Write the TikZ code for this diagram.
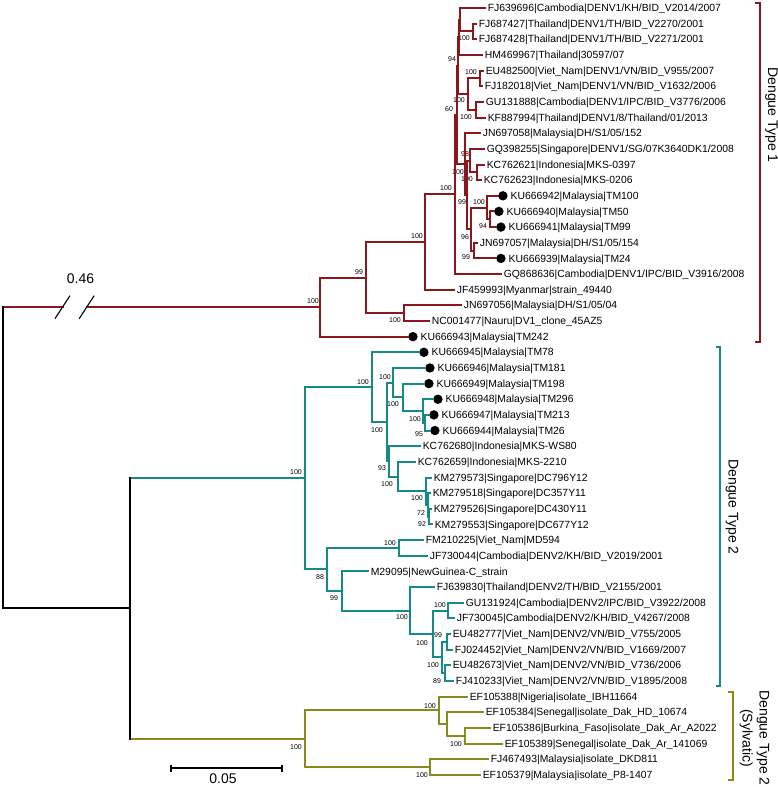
\documentclass[tikz,border=0pt]{standalone}
\usepackage{fontspec}
\setmainfont{Liberation Sans}
\usetikzlibrary{positioning}
\definecolor{denvred}{RGB}{139,22,28}
\definecolor{denvteal}{RGB}{20,138,138}
\definecolor{denvolive}{RGB}{138,138,28}

\begin{document}
\begin{tikzpicture}[x=1pt, y=-1pt,
    branch/.style={line width=2pt, line cap=rect},
    leaf/.style={anchor=west, inner xsep=2.6pt, inner ysep=0pt, text height=0.72em, text depth=0pt, font=\fontsize{10.4}{12}\selectfont},
    dot/.style={circle, fill=black, inner sep=0pt, minimum size=9.4pt, anchor=west},
    boot/.style={inner sep=0pt, font=\fontsize{7}{8}\selectfont},
    big/.style={inner sep=0pt, font=\fontsize{14}{17}\selectfont},
    bracket/.style={line width=2pt}]
    \useasboundingbox (0,0) rectangle (778,787);

    % Bootstrap values
    \foreach \n/\x/\y/\v in {D1/313/301/100, N1/359/272/99, N5/395/320/100, N2/417/236/100,
        N3/446/188/100, I60/449/109/60, I94/452/59/94, Tp/464/38/100, EUGU/459/100/100,
        EUp/471/72/100, GUp/466/117/100, B/465/154/98, KCp/467/179/100, H/458/172/100,
        G/462/202/99, D/479/202/100, C/483/226/94, F/465/237/96, E/466/257/99,
        R2/296/472/100, U/363/382/100, P4/385/377/100, P5/377/430/100, P3/393/404/100,
        P2/415/419/100, P1/419/434/95, Q/382/468/93, Q2/387/484/100, S3/417/498/100,
        S2/421/513/72, S1/422/524/92, V1/390/543/100, L/320/577/88, V2/334/598/99,
        V3/402/617/100, V4/422/643/100, W1/440/605/100, W3/438/635/99, W2/433/665/100,
        W4/437/681/89, S0/296/747/100, X1/430/706/100, X3/456/744/100, X4/422/775/100}
    {
        \node[boot] (bt\n) at (\x,\y) {\v};
    }

    % Leaves - Dengue Type 1
    \node[leaf] (l1) at (485,8) {FJ639696|Cambodia|DENV1/KH/BID\_V2014/2007};
    \node[leaf] (l2) at (476,23.65) {FJ687427|Thailand|DENV1/TH/BID\_V2270/2001};
    \node[leaf] (l3) at (476,39.3) {FJ687428|Thailand|DENV1/TH/BID\_V2271/2001};
    \node[leaf] (l4) at (482,54.95) {HM469967|Thailand|30597/07};
    \node[leaf] (l5) at (483,70.6) {EU482500|Viet\_Nam|DENV1/VN/BID\_V955/2007};
    \node[leaf] (l6) at (482,86.25) {FJ182018|Viet\_Nam|DENV1/VN/BID\_V1632/2006};
    \node[leaf] (l7) at (483,101.9) {GU131888|Cambodia|DENV1/IPC/BID\_V3776/2006};
    \node[leaf] (l8) at (485,117.55) {KF887994|Thailand|DENV1/8/Thailand/01/2013};
    \node[leaf] (l9) at (480,133.2) {JN697058|Malaysia|DH/S1/05/152};
    \node[leaf] (l10) at (484,148.85) {GQ398255|Singapore|DENV1/SG/07K3640DK1/2008};
    \node[leaf] (l11) at (484,164.5) {KC762621|Indonesia|MKS-0397};
    \node[leaf] (l12) at (481,180.15) {KC762623|Indonesia|MKS-0206};
    \node[dot] (d13) at (498,195.8) {};
    \node[leaf, right=0pt of d13] (l13) {KU666942|Malaysia|TM100};
    \node[dot] (d14) at (494,211.45) {};
    \node[leaf, right=0pt of d14] (l14) {KU666940|Malaysia|TM50};
    \node[dot] (d15) at (496,227.1) {};
    \node[leaf, right=0pt of d15] (l15) {KU666941|Malaysia|TM99};
    \node[leaf] (l16) at (477,242.75) {JN697057|Malaysia|DH/S1/05/154};
    \node[dot] (d17) at (496,258.4) {};
    \node[leaf, right=0pt of d17] (l17) {KU666939|Malaysia|TM24};
    \node[leaf] (l18) at (501,274.05) {GQ868636|Cambodia|DENV1/IPC/BID\_V3916/2008};
    \node[leaf] (l19) at (454,289.7) {JF459993|Myanmar|strain\_49440};
    \node[leaf] (l20) at (461,305.35) {JN697056|Malaysia|DH/S1/05/04};
    \node[leaf] (l21) at (429,321) {NC001477|Nauru|DV1\_clone\_45AZ5};
    \node[dot] (d22) at (408,336.65) {};
    \node[leaf, right=0pt of d22] (l22) {KU666943|Malaysia|TM242};

    % Leaves - Dengue Type 2
    \node[dot] (d23) at (419,352.3) {};
    \node[leaf, right=0pt of d23] (l23) {KU666945|Malaysia|TM78};
    \node[dot] (d24) at (425,367.95) {};
    \node[leaf, right=0pt of d24] (l24) {KU666946|Malaysia|TM181};
    \node[dot] (d25) at (424,383.6) {};
    \node[leaf, right=0pt of d25] (l25) {KU666949|Malaysia|TM198};
    \node[dot] (d26) at (433,399.25) {};
    \node[leaf, right=0pt of d26] (l26) {KU666948|Malaysia|TM296};
    \node[dot] (d27) at (429,414.9) {};
    \node[leaf, right=0pt of d27] (l27) {KU666947|Malaysia|TM213};
    \node[dot] (d28) at (430,430.55) {};
    \node[leaf, right=0pt of d28] (l28) {KU666944|Malaysia|TM26};
    \node[leaf] (l29) at (420,446.2) {KC762680|Indonesia|MKS-WS80};
    \node[leaf] (l30) at (415,461.85) {KC762659|Indonesia|MKS-2210};
    \node[leaf] (l31) at (431,477.5) {KM279573|Singapore|DC796Y12};
    \node[leaf] (l32) at (430,493.15) {KM279518|Singapore|DC357Y11};
    \node[leaf] (l33) at (431,508.8) {KM279526|Singapore|DC430Y11};
    \node[leaf] (l34) at (432,524.45) {KM279553|Singapore|DC677Y12};
    \node[leaf] (l35) at (423,540.1) {FM210225|Viet\_Nam|MD594};
    \node[leaf] (l36) at (427,555.75) {JF730044|Cambodia|DENV2/KH/BID\_V2019/2001};
    \node[leaf] (l37) at (368,571.4) {M29095|NewGuinea-C\_strain};
    \node[leaf] (l38) at (434,587.05) {FJ639830|Thailand|DENV2/TH/BID\_V2155/2001};
    \node[leaf] (l39) at (463,602.7) {GU131924|Cambodia|DENV2/IPC/BID\_V3922/2008};
    \node[leaf] (l40) at (454,618.35) {JF730045|Cambodia|DENV2/KH/BID\_V4267/2008};
    \node[leaf] (l41) at (450,634) {EU482777|Viet\_Nam|DENV2/VN/BID\_V755/2005};
    \node[leaf] (l42) at (452,649.65) {FJ024452|Viet\_Nam|DENV2/VN/BID\_V1669/2007};
    \node[leaf] (l43) at (450,665.3) {EU482673|Viet\_Nam|DENV2/VN/BID\_V736/2006};
    \node[leaf] (l44) at (453,680.95) {FJ410233|Viet\_Nam|DENV2/VN/BID\_V1895/2008};

    % Leaves - Sylvatic
    \node[leaf] (l45) at (467,696.6) {EF105388|Nigeria|isolate\_IBH11664};
    \node[leaf] (l46) at (483,712.25) {EF105384|Senegal|isolate\_Dak\_HD\_10674};
    \node[leaf] (l47) at (490,727.9) {EF105386|Burkina\_Faso|isolate\_Dak\_Ar\_A2022};
    \node[leaf] (l48) at (502,743.55) {EF105389|Senegal|isolate\_Dak\_Ar\_141069};
    \node[leaf] (l49) at (488,759.2) {FJ467493|Malaysia|isolate\_DKD811};
    \node[leaf] (l50) at (480,774.85) {EF105379|Malaysia|isolate\_P8-1407};

    % Internal nodes - Dengue Type 1
    \coordinate (Tp) at (473,31.48);
    \coordinate (Ta) at (460,19.74);
    \coordinate (Tb) at (459,37.34);
    \coordinate (EUp) at (480,78.43);
    \coordinate (GUp) at (476,109.73);
    \coordinate (EUGU) at (468,94.08);
    \coordinate (I94) at (458,65.71);
    \coordinate (KCp) at (477,172.33);
    \coordinate (B) at (470,160.59);
    \coordinate (C) at (490,219.28);
    \coordinate (D) at (487,207.54);
    \coordinate (E) at (474,250.58);
    \coordinate (F) at (471,229.06);
    \coordinate (G) at (467,194.82);
    \coordinate (H) at (465,164.01);
    \coordinate (I60) at (457,114.86);
    \coordinate (N3) at (455,194.46);
    \coordinate (N2) at (425,242.08);
    \coordinate (N5) at (404,313.18);
    \coordinate (N1) at (366,277.63);
    \coordinate (D1) at (320,307.14);

    \draw[branch, denvred] (l2.west) -| (Tp) |- (l3.west);
    \draw[branch, denvred] (l1.west) -| (Ta) |- (Tp);
    \draw[branch, denvred] (Ta) -| (Tb) |- (l4.west);
    \draw[branch, denvred] (l5.west) -| (EUp) |- (l6.west);
    \draw[branch, denvred] (l7.west) -| (GUp) |- (l8.west);
    \draw[branch, denvred] (EUp) -| (EUGU) |- (GUp);
    \draw[branch, denvred] (Tb) -| (I94) |- (EUGU);
    \draw[branch, denvred] (l11.west) -| (KCp) |- (l12.west);
    \draw[branch, denvred] (l10.west) -| (B) |- (KCp);
    \draw[branch, denvred] (d14.west) -| (C) |- (d15.west);
    \draw[branch, denvred] (d13.west) -| (D) |- (C);
    \draw[branch, denvred] (l16.west) -| (E) |- (d17.west);
    \draw[branch, denvred] (D) -| (F) |- (E);
    \draw[branch, denvred] (B) -| (G) |- (F);
    \draw[branch, denvred] (l9.west) -| (H) |- (G);
    \draw[branch, denvred] (I94) -| (I60) |- (H);
    \draw[branch, denvred] (I60) -| (N3) |- (l18.west);
    \draw[branch, denvred] (N3) -| (N2) |- (l19.west);
    \draw[branch, denvred] (l20.west) -| (N5) |- (l21.west);
    \draw[branch, denvred] (N2) -| (N1) |- (N5);
    \draw[branch, denvred] (N1) -| (D1) |- (d22.west);

    % Internal nodes - Dengue Type 2
    \coordinate (P1) at (425,422.73);
    \coordinate (P2) at (423,410.99);
    \coordinate (P3) at (403,397.29);
    \coordinate (P4) at (393,382.62);
    \coordinate (S1) at (429,516.63);
    \coordinate (S2) at (427.5,504.89);
    \coordinate (S3) at (426,491.19);
    \coordinate (Q2) at (398,476.52);
    \coordinate (Q) at (389,461.36);
    \coordinate (P5) at (387,421.99);
    \coordinate (U) at (372,387.15);
    \coordinate (V1) at (399,547.93);
    \coordinate (W1) at (448,610.53);
    \coordinate (W3) at (447,641.83);
    \coordinate (W4) at (445,673.13);
    \coordinate (W2) at (442,657.48);
    \coordinate (V4) at (433,634);
    \coordinate (V3) at (410,610.53);
    \coordinate (V2) at (342,590.96);
    \coordinate (L) at (327,569.44);
    \coordinate (R2) at (305,478.3);

    \draw[branch, denvteal] (d27.west) -| (P1) |- (d28.west);
    \draw[branch, denvteal] (d26.west) -| (P2) |- (P1);
    \draw[branch, denvteal] (d25.west) -| (P3) |- (P2);
    \draw[branch, denvteal] (d24.west) -| (P4) |- (P3);
    \draw[branch, denvteal] (l33.west) -| (S1) |- (l34.west);
    \draw[branch, denvteal] (l32.west) -| (S2) |- (S1);
    \draw[branch, denvteal] (l31.west) -| (S3) |- (S2);
    \draw[branch, denvteal] (l30.west) -| (Q2) |- (S3);
    \draw[branch, denvteal] (l29.west) -| (Q) |- (Q2);
    \draw[branch, denvteal] (P4) -| (P5) |- (Q);
    \draw[branch, denvteal] (d23.west) -| (U) |- (P5);
    \draw[branch, denvteal] (l35.west) -| (V1) |- (l36.west);
    \draw[branch, denvteal] (l39.west) -| (W1) |- (l40.west);
    \draw[branch, denvteal] (l41.west) -| (W3) |- (l42.west);
    \draw[branch, denvteal] (l43.west) -| (W4) |- (l44.west);
    \draw[branch, denvteal] (W3) -| (W2) |- (W4);
    \draw[branch, denvteal] (W1) -| (V4) |- (W2);
    \draw[branch, denvteal] (l38.west) -| (V3) |- (V4);
    \draw[branch, denvteal] (l37.west) -| (V2) |- (V3);
    \draw[branch, denvteal] (V1) -| (L) |- (V2);
    \draw[branch, denvteal] (U) -| (R2) |- (L);

    % Internal nodes - Sylvatic
    \coordinate (X3) at (465,735.73);
    \coordinate (X2) at (447,723.99);
    \coordinate (X1) at (439,710.3);
    \coordinate (X4) at (430,767.03);
    \coordinate (S0) at (305,738.66);

    \draw[branch, denvolive] (l47.west) -| (X3) |- (l48.west);
    \draw[branch, denvolive] (l46.west) -| (X2) |- (X3);
    \draw[branch, denvolive] (l45.west) -| (X1) |- (X2);
    \draw[branch, denvolive] (l49.west) -| (X4) |- (l50.west);
    \draw[branch, denvolive] (X1) -| (S0) |- (X4);

    % Root with the broken branch
    \coordinate (root) at (3,457.81);
    \coordinate (A) at (130,608.48);
    \coordinate (brk1) at (62.5,307.14);
    \coordinate (brk2) at (86.7,307.14);
    \draw[branch, denvred] (root |- D1) -- (brk1);
    \draw[branch, denvred] (brk2) -- (D1);
    \draw[line width=1.1pt] (brk1) ++(-7.5,11.5) -- ++(15,-23);
    \draw[line width=1.1pt] (brk2) ++(-7.5,11.5) -- ++(15,-23);
    \node[big] (brklabel) at (80.5,279) {0.46};
    \draw[branch, denvteal] (A |- R2) -- (R2);
    \draw[branch, denvolive] (A |- S0) -- (S0);
    \draw[branch] (A |- R2) -- (A |- S0);
    \draw[branch] (root |- D1) |- (A);

    % Clade brackets
    \draw[bracket, denvred] (755,3) -| (760,342) -- (755,342);
    \draw[bracket, denvteal] (716,347) -| (720,686) -- (716,686);
    \draw[bracket, denvolive] (728,692) -| (733,780) -- (728,780);
    \node[big, rotate=-90] (typeone) at (771.5,115) {Dengue Type 1};
    \node[big, rotate=-90] (typetwo) at (732,507) {Dengue Type 2};
    \node[big, rotate=-90, align=center] (typesylv) at (754.5,738) {Dengue Type 2\\(Sylvatic)};

    % Scale bar
    \coordinate (sb1) at (171,768);
    \coordinate (sb2) at (282,768);
    \draw[line width=1.6pt] (sb1) -- (sb2);
    \draw[line width=1.6pt] (sb1) ++(0,-3.5) -- ++(0,7);
    \draw[line width=1.6pt] (sb2) ++(0,-3.5) -- ++(0,7);
    \node[big] (sblabel) at (223,779) {0.05};
\end{tikzpicture}
\end{document}
